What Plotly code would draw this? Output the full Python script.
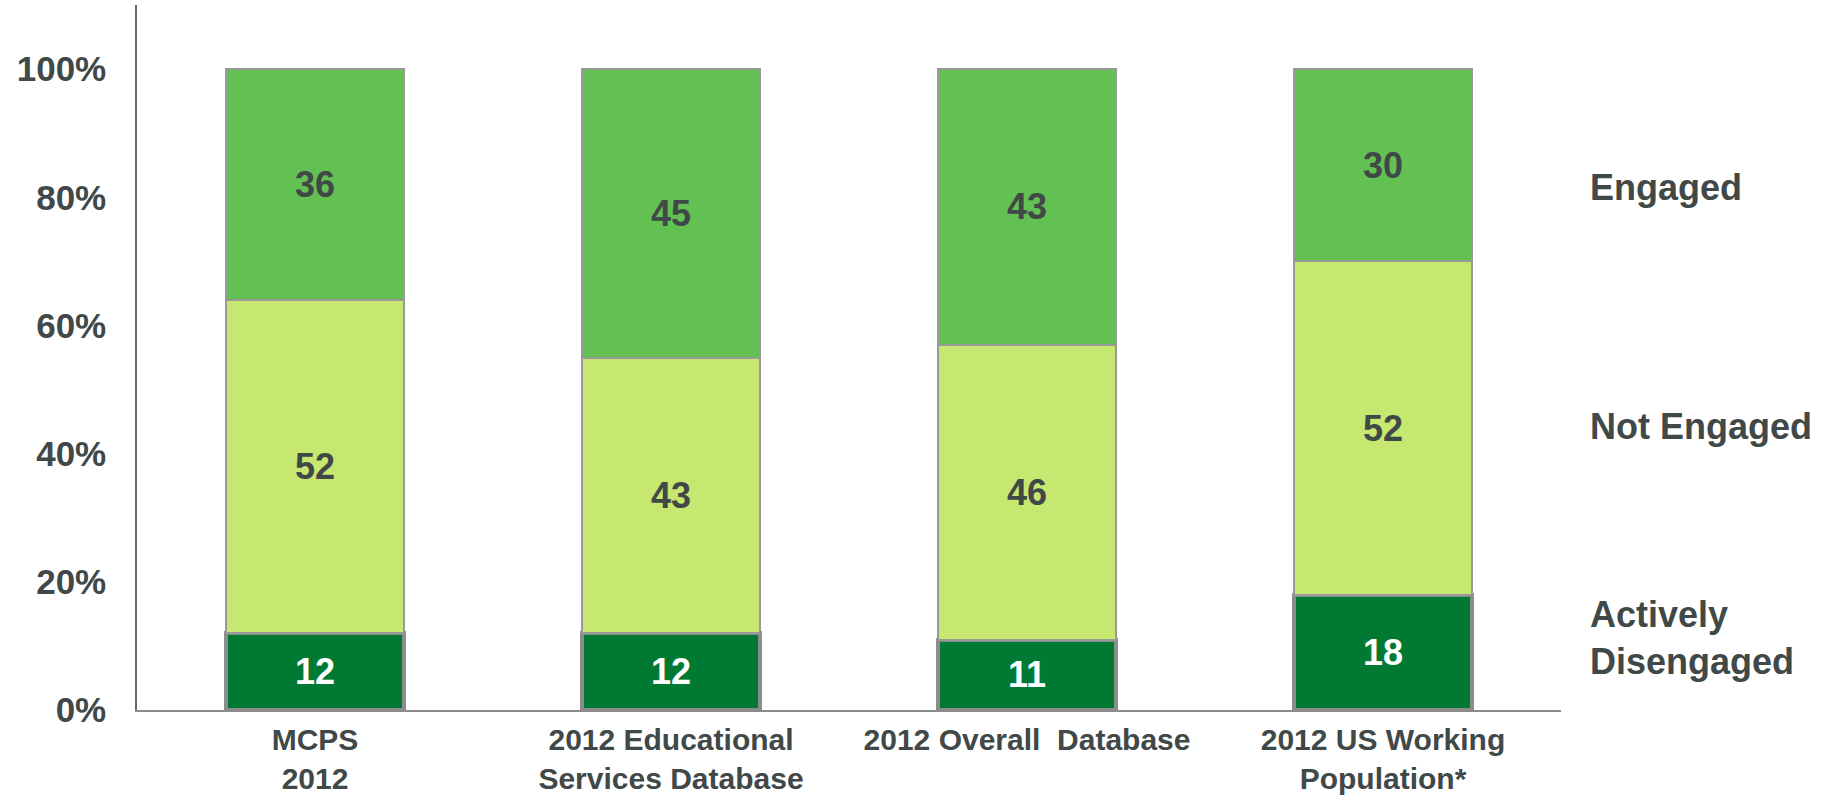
import plotly.graph_objects as go

categories = ["MCPS<br>2012", "2012 Educational<br>Services Database",
              "2012 Overall  Database", "2012 US Working<br>Population*"]
actively_disengaged = [12, 12, 11, 18]
not_engaged = [52, 43, 46, 52]
engaged = [36, 45, 43, 30]

y_ticks = [0, 20, 40, 60, 80, 100]
y_tick_labels = ["0%", "20%", "40%", "60%", "80%", "100%"]

series_labels = ["Engaged", "Not Engaged", "Actively<br>Disengaged"]
series_label_y = [81.6, 44.3, 11.2]

TEXT = "#404848"
FONT = "Arial, Liberation Sans, sans-serif"

fig = go.Figure()

fig.add_trace(go.Bar(
    x=categories, y=actively_disengaged, name="Actively Disengaged",
    marker=dict(color="#007A33", line=dict(color="#8C8C8C", width=4)),
    text=actively_disengaged, textposition="inside", insidetextanchor="middle",
    textfont=dict(family=FONT, size=36, color="white", weight="bold"),
    constraintext="none",
))
fig.add_trace(go.Bar(
    x=categories, y=not_engaged, name="Not Engaged",
    marker=dict(color="#C6E770", line=dict(color="#999999", width=2)),
    text=not_engaged, textposition="inside", insidetextanchor="middle",
    textfont=dict(family=FONT, size=36, color=TEXT, weight="bold"),
    constraintext="none",
))
fig.add_trace(go.Bar(
    x=categories, y=engaged, name="Engaged",
    marker=dict(color="#62C152", line=dict(color="#999999", width=2)),
    text=engaged, textposition="inside", insidetextanchor="middle",
    textfont=dict(family=FONT, size=36, color=TEXT, weight="bold"),
    constraintext="none",
))

for label, yv in zip(series_labels, series_label_y):
    fig.add_annotation(
        x=1.019, xref="paper", y=yv, yref="y", text=label,
        showarrow=False, xanchor="left", yanchor="middle", align="left",
        font=dict(family=FONT, size=36, color=TEXT, weight="bold"),
    )

fig.update_layout(
    barmode="stack",
    bargap=0.5,
    width=1831, height=800,
    margin=dict(l=137, r=270, t=5, b=90),
    plot_bgcolor="white", paper_bgcolor="white",
    showlegend=False,
    font=dict(family=FONT, color=TEXT),
)
fig.update_xaxes(
    automargin=False,
    showline=True, linecolor="#8C8C8C", linewidth=2,
    showgrid=False, ticks="", ticklabelstandoff=2,
    tickfont=dict(family=FONT, size=30, color=TEXT, weight="bold"),
)
fig.update_yaxes(
    automargin=False,
    range=[0, 110], showline=True, linecolor="#666666", linewidth=1.5,
    showgrid=False, zeroline=False, ticks="",
    tickvals=y_ticks, ticktext=y_tick_labels, ticklabelstandoff=22,
    tickfont=dict(family=FONT, size=35, color=TEXT, weight="bold"),
)

fig.write_html("out.html")
